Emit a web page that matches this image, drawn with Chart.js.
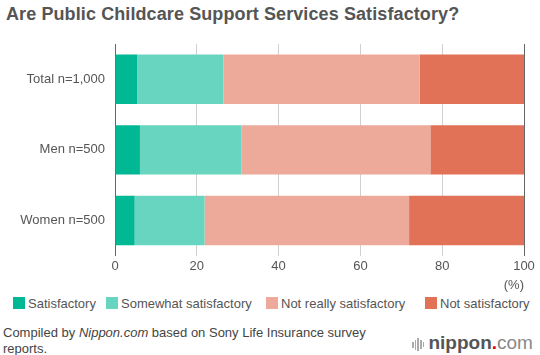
<!DOCTYPE html>
<html>
<head>
<meta charset="utf-8">
<script src="https://cdn.jsdelivr.net/npm/chart.js@4"></script>
<style>
  html, body { margin: 0; padding: 0; background: #fff; }
  body { width: 540px; height: 355px; position: relative; overflow: hidden; font-family: "Liberation Sans", Arial, sans-serif; color: #555; }
  #title { position: absolute; left: 6px; top: 4px; font-size: 18px; font-weight: bold; color: #555; white-space: nowrap; letter-spacing: 0.1px; }
  #wrap { position: absolute; left: 0; top: 0; width: 540px; height: 293px; }
  #legend { position: absolute; left: 0; top: 297px; width: 540px; height: 16px; font-size: 13px; color: #555; }
  #legend .item { position: absolute; top: 0; white-space: nowrap; line-height: 14px; }
  #legend .box { display: inline-block; width: 12px; height: 12px; vertical-align: -1px; margin-right: 3px; }
  #footer { position: absolute; left: 3px; top: 325px; font-size: 13px; line-height: 16px; color: #444; width: 380px; }
  #logo { position: absolute; left: 412px; top: 332px; height: 22px; white-space: nowrap; font-size: 19px; line-height: 22px; }
  #logo .icon { display: inline-block; vertical-align: middle; margin-right: 3px; }
  #logo .icon i { display: inline-block; width: 1.5px; background: #aaa; margin-right: 1.2px; vertical-align: middle; }
  #logo .n { font-weight: bold; color: #555; }
  #logo .d { color: #e60012; font-weight: bold; }
  #logo .c { color: #888; }
</style>
</head>
<body>
<div id="title">Are Public Childcare Support Services Satisfactory?</div>
<div id="wrap"><canvas id="c"></canvas></div>
<div id="legend"></div>
<div id="footer">Compiled by <i>Nippon.com</i> based on Sony Life Insurance survey reports.</div>
<div id="logo"><span class="icon"><i style="height:6px"></i><i style="height:10px"></i><i style="height:13px"></i><i style="height:9px"></i><i style="height:5px"></i></span><span class="n">nippon</span><span class="d">.</span><span class="c">com</span></div>
<script>
const categories = ["Total n=1,000", "Men n=500", "Women n=500"];
const seriesNames = ["Satisfactory", "Somewhat satisfactory", "Not really satisfactory", "Not satisfactory"];
const satisfactory = [5.4, 6.1, 4.8];
const somewhatSatisfactory = [21.1, 24.8, 17.1];
const notReallySatisfactory = [48.0, 46.2, 50.0];
const notSatisfactory = [25.5, 22.9, 28.1];
const xTicks = [0, 20, 40, 60, 80, 100];
const colors = ["#00b894", "#68d5c0", "#edaa9a", "#e17157"];

const seriesValues = [satisfactory, somewhatSatisfactory, notReallySatisfactory, notSatisfactory];

// HTML legend built from the series names and colours
const legendLeft = [13, 106, 266, 425];
const legendEl = document.getElementById("legend");
seriesNames.forEach((name, i) => {
  const it = document.createElement("span");
  it.className = "item";
  it.style.left = legendLeft[i] + "px";
  const b = document.createElement("span");
  b.className = "box";
  b.style.background = colors[i];
  it.appendChild(b);
  it.appendChild(document.createTextNode(name));
  legendEl.appendChild(it);
});

const font = { family: "'Liberation Sans', Arial, sans-serif", size: 13 };

new Chart(document.getElementById("c"), {
  type: "bar",
  data: {
    labels: categories,
    datasets: seriesValues.map((vals, i) => ({
      label: seriesNames[i],
      data: vals,
      backgroundColor: colors[i],
      borderWidth: 0,
      categoryPercentage: 1,
      barPercentage: 0.7
    }))
  },
  options: {
    indexAxis: "y",
    responsive: true,
    maintainAspectRatio: false,
    animation: false,
    layout: { padding: { top: 44, right: 16, left: 0, bottom: 0 } },
    plugins: {
      tooltip: { enabled: false },
      title: { display: false },
      legend: { display: false }
    },
    scales: {
      x: {
        stacked: true,
        min: 0, max: 100,
        afterBuildTicks: (s) => { s.ticks = xTicks.map(v => ({ value: v })); },
        grid: {
          drawTicks: false,
          color: (ctx) => (ctx.tick && (ctx.tick.value === 100) ? "#666" : "#d0d0d0"),
          lineWidth: 1
        },
        border: { display: false },
        ticks: { padding: 3, color: "#555", font: font },
        title: {
          display: true, text: "(%)", align: "end", color: "#555",
          padding: { top: 0, bottom: 0 },
          font: font
        }
      },
      y: {
        stacked: true,
        afterFit: (s) => { s.width = 115; },
        grid: { display: false, drawTicks: false },
        border: { display: true, color: "#666", width: 1 },
        ticks: { padding: 10, color: "#555", font: font }
      }
    }
  }
});
</script>
</body>
</html>
